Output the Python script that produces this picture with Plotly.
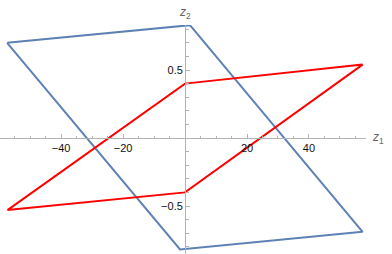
import plotly.graph_objects as go

# data
blue_z1 = [-57.4, 1.6, 57.3, -1.6, -57.4]
blue_z2 = [0.70, 0.83, -0.69, -0.82, 0.70]
red_z1 = [-57.3, 0.0, 57.3, 0.0, -57.3]
red_z2 = [-0.53, 0.40, 0.54, -0.40, -0.53]
x_tickvals = [-40, -20, 20, 40]
x_ticktext = ["\u221240", "\u221220", "20", "40"]
y_tickvals = [-0.5, 0.5]
y_ticktext = ["\u22120.5", "0.5"]

xr = [-59.7, 58.4]
yr = [-0.853, 0.831]

fig = go.Figure()
fig.add_trace(go.Scatter(x=blue_z1, y=blue_z2, mode="lines",
                         line=dict(color="#5E81B5", width=2), hoverinfo="skip"))
fig.add_trace(go.Scatter(x=red_z1, y=red_z2, mode="lines",
                         line=dict(color="#FF0000", width=2), hoverinfo="skip"))

axcol = "#b3b3b3"
font = dict(family="Liberation Sans, Arial, sans-serif", size=11, color="#111")

fig.update_layout(
    width=392, height=254,
    margin=dict(l=0, r=26, t=25, b=0),
    paper_bgcolor="white", plot_bgcolor="white",
    showlegend=False,
    xaxis=dict(range=xr, showgrid=False, zeroline=False, showline=True,
               linecolor=axcol, linewidth=1, anchor="free", automargin=False,
               position=(0 - yr[0]) / (yr[1] - yr[0]),
               tickmode="array", tickvals=x_tickvals, ticktext=x_ticktext,
               ticks="inside", ticklen=4, tickcolor=axcol, tickfont=font,
               minor=dict(dtick=5, tick0=0, ticks="inside", ticklen=2.5, tickcolor=axcol),
               fixedrange=True),
    yaxis=dict(range=yr, showgrid=False, zeroline=False, showline=True,
               linecolor=axcol, linewidth=1, anchor="free", automargin=False,
               position=(0 - xr[0]) / (xr[1] - xr[0]),
               tickmode="array", tickvals=y_tickvals, ticktext=y_ticktext,
               ticks="inside", ticklen=4, tickcolor=axcol, tickfont=font,
               minor=dict(dtick=0.1, tick0=0, ticks="inside", ticklen=2.5, tickcolor=axcol),
               fixedrange=True),
    annotations=[
        dict(text="<i>z</i><sub>1</sub>", xref="paper", yref="y", x=1.0, y=0,
             xanchor="left", yanchor="middle", xshift=4, showarrow=False,
             font=dict(family="Liberation Sans, Arial, sans-serif", size=12, color="#666")),
        dict(text="<i>z</i><sub>2</sub>", xref="x", yref="paper", x=0, y=1.0,
             xanchor="center", yanchor="bottom", yshift=2, showarrow=False,
             font=dict(family="Liberation Sans, Arial, sans-serif", size=12, color="#666")),
    ],
)

fig.write_html("out.html", config={"displayModeBar": False},
               post_script="document.body.style.margin='0';document.body.style.overflow='hidden';")
